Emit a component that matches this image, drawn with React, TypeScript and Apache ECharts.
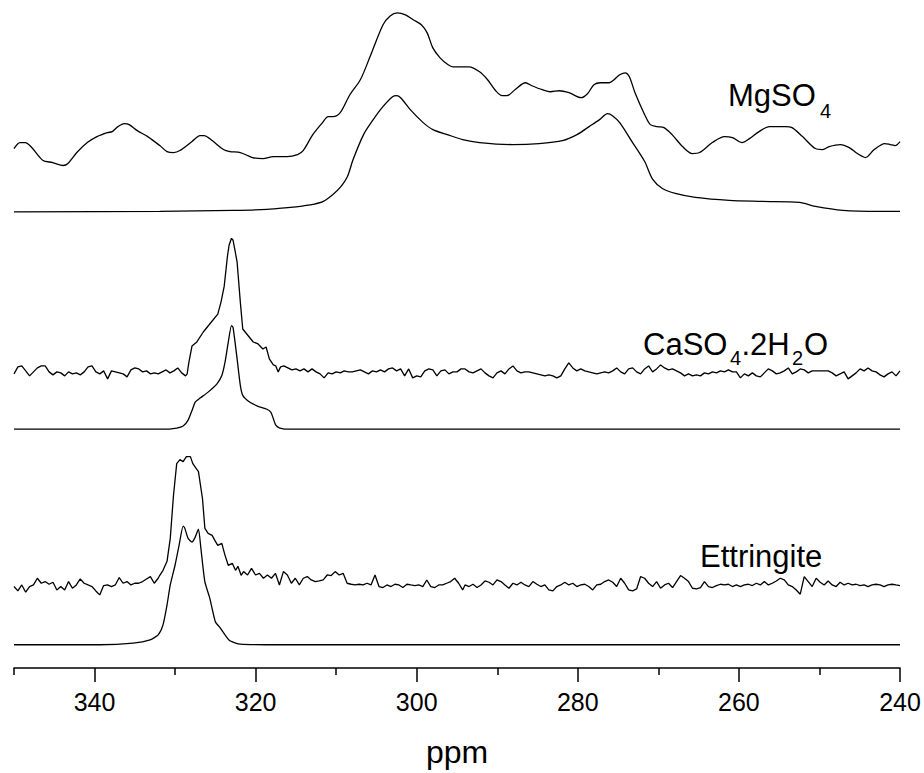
import React, { useEffect, useRef } from "react";
import * as echarts from "echarts";

const FONT = "'Liberation Sans', Arial, Helvetica, sans-serif";

// x axis (ppm) ticks
const MAJOR_TICKS = [240, 260, 280, 300, 320, 340];
const MINOR_TICKS = [250, 270, 290, 310, 330, 350];

// vertical offsets of the stacked spectra (arbitrary intensity units)
const OFFSETS = [500, 457.5, 296, 239.5, 82, 23.3];

type P = [number, number];
// evenly sampled segment between two chemical shifts
function seg(start: number, end: number, vals: number[]): P[] {
  const n = vals.length;
  return vals.map((v, i) => [start + ((end - start) * i) / (n - 1), v] as P);
}

// MgSO4 experimental
const MGSO4_EXP: P[] = [
  [350.0, 21], [349.25, 27], [348.6, 27], [347.8, 22], [346.4, 9], [345.2, 7], [343.9, 4], [343.3, 6],
  [342.2, 17], [340.9, 27], [339.7, 33], [338.4, 37], [337.8, 38], [337.1, 43], [336.3, 46], [335.7, 45],
  [334.7, 39], [333.4, 33], [331.9, 24], [331.0, 18], [330.2, 17], [329.4, 19], [327.9, 28], [326.9, 34],
  [326.4, 34], [325.4, 29], [324.0, 20], [323.2, 18], [321.9, 17], [320.4, 12], [319.1, 11], [317.8, 13],
  [316.1, 13], [314.8, 15], [314.1, 19], [312.9, 35], [311.7, 47], [311.0, 53], [310.4, 53], [309.5, 57],
  [308.3, 75], [307.0, 90], [305.8, 113], [304.2, 145], [303.3, 154], [302.4, 157], [301.4, 155], [300.4, 150],
  [299.4, 145], [298.7, 137], [298.0, 122], [297.1, 112], [296.1, 105], [295.5, 103], [294.3, 103], [293.5, 103],
  [292.2, 98], [291.2, 90], [290.2, 79], [289.4, 74], [288.8, 74], [287.8, 80], [286.5, 87], [285.7, 84],
  [284.4, 80], [283.4, 78], [282.3, 79], [281.1, 77], [279.6, 72], [278.8, 76], [278.0, 85], [277.2, 87],
  [276.1, 87], [275.5, 90], [274.8, 95], [274.1, 97], [273.6, 93], [272.9, 77], [271.7, 55], [271.0, 45],
  [270.1, 43], [269.3, 42], [268.3, 35], [267.0, 23], [265.8, 16], [264.9, 17], [263.3, 27], [261.8, 33],
  [260.8, 32], [259.6, 27], [258.7, 31], [257.5, 38], [256.2, 43], [254.2, 43], [253.4, 42], [252.1, 33],
  [250.5, 21], [249.6, 20], [248.8, 23], [247.4, 25], [246.3, 22], [245.3, 16], [244.3, 12], [243.2, 20],
  [241.9, 26], [241.2, 25], [240.6, 24], [240.0, 28],
];

// MgSO4 simulated
const MGSO4_SIM: P[] = [
  [350, 0], [331.9, 0.5], [322.8, 1.5], [318.6, 2.5], [315.7, 4.5], [314.5, 5.5], [312.9, 7.5], [311.6, 10.5],
  [310.4, 17.5], [309.5, 24.5], [308.6, 35.5], [307.9, 52.5], [306.6, 77.5], [305.4, 92.5], [304.2, 105.5],
  [303.0, 115.5], [302.5, 116.5], [302.0, 114.5], [300.8, 102.5], [299.2, 89.5], [298.0, 82.5], [296.2, 77.5],
  [294.3, 72.5], [292.2, 69.5], [288.1, 67.5], [284.8, 68.5], [281.9, 71.5], [280.1, 77.5], [278.6, 85.5],
  [277.3, 92.5], [276.3, 98.5], [275.7, 96.5], [274.8, 89.5], [273.2, 69.5], [271.7, 50.5], [270.7, 32.5],
  [269.5, 23.5], [267.9, 18.5], [265.4, 14.5], [261.2, 11.5], [257.1, 10.5], [252.5, 9.5], [250.5, 5.5],
  [247.1, 1.5], [242.5, 0.5], [240, 0.5],
];

// CaSO4.2H2O experimental
const CASO4_EXP: P[] = [
  ...seg(350, 328.7, [
    -1, 6, 7, 2, -3, 1, 5, 7, 7, 1, -2, 1, 0, -3, 1, -1, 0, -2, 1, 6, 7, 1, -1, 2, -6, 2, 1, 0, -1, -4,
    3, 5, 4, 1, 2, -1, 0, -1, 1, 3, 0, 2, 5, 0, -3,
  ]),
  [328.5, -1], [328.3, 10], [327.9, 27], [327.3, 31], [326.5, 41], [325.7, 49], [324.7, 59], [324.3, 71],
  [323.9, 87], [323.5, 117], [323.3, 128], [323.0, 135], [322.8, 133], [322.5, 120], [322.3, 111], [321.9, 71],
  [321.6, 44], [320.9, 37], [320.3, 31], [319.7, 29], [319.1, 24], [318.7, 26], [318.3, 14], [317.8, 8],
  [317.5, 7], [317.2, 1], [316.9, 6],
  ...seg(316.5, 294.5, [
    7, 5, 3, 4, 2, 4, 1, 4, 1, -1, -5, 0, -1, 1, 0, 2, 1, 1, 2, 3, 1, -1, 2, 1, 3, 1, 4, 5, 2, 4,
    -3, 4, -5, -3, -4, 2, 4, 3, -3, 2, 3, -1, 1, 1, 4,
  ]),
  ...seg(294.0, 240.0, [
    4, 1, 0, 2, 4, 0, -3, -5, 0, 2, -1, 4, 7, 2, 0, 1, 1, 0, -1, -2, -3, -2, -3, -5, -3, 4, 10, 5, 2, 4,
    2, 1, 0, -1, 0, 1, 0, 2, 5, 1, -1, 4, 5, 1, -1, 4, 7, 1, 4, 8, 5, 3, 4, 2, 0, -3, -1, -3, -2, -3,
    0, -1, 1, 0, 2, 1, 3, 1, 1, -5, -1, -3, 0, -3, -4, 0, 4, 2, -1, 0, 2, 5, -1, 1, 4, 3, 0, 2, 2, 2,
    2, 2, 0, -3, -1, 1, -6, -3, 0, 4, 2, 5, 2, 1, -2, -4, -1, 1, -3, 2,
  ]),
];

// CaSO4.2H2O simulated
const CASO4_SIM: P[] = [
  [350, 0], [331.5, 0], [329.8, 1.2], [329.0, 3.2], [328.4, 8.8], [327.9, 18.8], [327.5, 27.2], [326.9, 31.2],
  [325.9, 37.2], [324.8, 45.5], [324.2, 53.8], [323.8, 67.2], [323.4, 87.2], [323.0, 104], [322.8, 102],
  [322.3, 70.5], [321.9, 44], [321.6, 34], [320.7, 27], [319.7, 23], [318.6, 20], [318.1, 17], [317.8, 10.5],
  [317.5, 4], [317.0, 1.2], [315.7, 0], [240, 0],
];

// Ettringite experimental
const ETTR_EXP: P[] = [
  ...seg(350, 332.1, [
    -0.3, -4.7, 1.3, -6, -0.3, 1.3, 8, 3, 4.7, 2, 4, -3.7, -0.3, -3.7, 4.7, -2, 1.3, 7.3, 3, 1.3,
    -0.3, -4.7, -8.7, 0.7, 1.3, -0.3, 1.3, 8.7, 3, 4.7, 1.3, 3, 3, 4.7, 7.3, 9.7, 3, 8,
  ]),
  [331.9, 11], [331.5, 16], [331.0, 25], [330.6, 48], [330.2, 91], [329.8, 123], [329.4, 127], [329.0, 125],
  [328.6, 130], [328.1, 130], [327.8, 123], [327.1, 115], [326.6, 88], [326.3, 58], [325.9, 53], [325.4, 51],
  [325.0, 45], [324.7, 41], [324.2, 43], [323.8, 31], [323.4, 21], [322.9, 23], [322.5, 16], [322.2, 20],
  [321.8, 11],
  ...seg(321.5, 294.3, [
    14.7, 11.3, 18, 11.3, 13, 8, 11.3, 8, 13, 1.3, 14.7, 11.3, 3, 8, 1.3, 8, 9.7, 6.3, 4.7, 5.3,
    6.3, 11.3, 10.7, 14.7, 11.3, 13, 3, 2, 1.3, 2, 1.3, 3, 1.3, 11.3, -0.3, -1.3, 1.3, -0.3, 2, 1.3,
    -1.3, 2, 1.3, 0.7, 1.3, -0.3, 6.3, -0.3, -1.3, 1.3, 1.3, 3, 4.7, 8, 3, -3.7,
  ]),
  ...seg(294.0, 240.0, [
    1.3, -0.3, 2, -1.3, 1.3, 5.3, 4, 1.3, 6.3, 4.7, 1.3, -2, 3, 1.3, 4, 1.3, -0.3, 4.7, 2, -0.3,
    1.3, -3.7, -4.7, -0.3, 1.3, 4, 1.3, 3, -0.3, 1.3, 2, -0.3, -3.7, 1.3, 2, 4.7, 6.3, 4, -0.3, 8,
    3, -3.7, -4.7, -2.7, 9.7, 8, 3, -0.3, 4.7, -2, 1.3, 3, -1.3, 4.7, 10.7, 8, 4.7, -2, -2.7, -1.3,
    4.7, -0.3, -1.3, 0.7, 2, 1.3, 2, -0.3, 1.3, -0.3, 1.3, 2, 0.7, 3, 1.3, 4.7, 1.3, 3, 5.3, 8,
    6.3, 1.3, -0.3, -3.7, -8, 9.7, 4.7, -0.3, 8, 4, 1.3, 5.3, 1.3, -0.3, 4, 1.3, 3, 1.3, 2, 0.7,
    1.3, -0.3, 1.3, 2, 1.3, -0.3, 1.3, 2, 1.3, 0.7,
  ]),
];

// Ettringite simulated
const ETTR_SIM: P[] = [
  [350, 0], [339.3, 0], [335.2, 1.7], [333.1, 5], [332.1, 10], [331.5, 20], [331.0, 40], [330.6, 60],
  [330.0, 80], [329.5, 100], [329.0, 119], [328.8, 117], [328.4, 107], [327.9, 103], [327.5, 108],
  [327.1, 116], [326.8, 97], [326.3, 63], [325.7, 47], [325.0, 23], [324.4, 17], [323.8, 10], [323.2, 4],
  [321.9, 0.7], [316.9, 0], [240, 0],
];

const TRACES: { name: string; data: P[]; smooth: number }[] = [
  { name: "MgSO4 exp", data: MGSO4_EXP, smooth: 0.3 },
  { name: "MgSO4 sim", data: MGSO4_SIM, smooth: 0.3 },
  { name: "CaSO4.2H2O exp", data: CASO4_EXP, smooth: 0 },
  { name: "CaSO4.2H2O sim", data: CASO4_SIM, smooth: 0.2 },
  { name: "Ettringite exp", data: ETTR_EXP, smooth: 0 },
  { name: "Ettringite sim", data: ETTR_SIM, smooth: 0.2 },
];

export default function App() {
  const ref = useRef<HTMLDivElement>(null);
  useEffect(() => {
    if (!ref.current) return;
    const chart = echarts.init(ref.current, undefined, { renderer: "svg" });
    const txt = (text: string, x: number, y: number, size: number) => ({
      type: "text",
      x,
      y,
      silent: true,
      style: {
        text,
        fontSize: size,
        fontFamily: FONT,
        fill: "#000",
        align: "left",
        verticalAlign: "middle",
      },
    });
    chart.setOption({
      animation: false,
      backgroundColor: "#fff",
      grid: { left: 14, right: 24, top: 0, bottom: 103, containLabel: false },
      xAxis: [
        {
          type: "value",
          min: 240,
          max: 350,
          inverse: true,
          position: "bottom",
          axisLine: { show: true, lineStyle: { color: "#000", width: 1.5 } },
          axisTick: { show: true, customValues: MAJOR_TICKS, length: 14, lineStyle: { color: "#000", width: 1.5 } },
          axisLabel: {
            show: true,
            customValues: MAJOR_TICKS,
            margin: 21,
            fontSize: 25,
            fontFamily: FONT,
            color: "#000",
          },
          splitLine: { show: false },
          name: "ppm",
          nameLocation: "middle",
          nameGap: 68,
          nameTextStyle: { fontSize: 32, fontFamily: FONT, color: "#000" },
        },
        {
          type: "value",
          min: 240,
          max: 350,
          inverse: true,
          position: "bottom",
          axisLine: { show: false },
          axisTick: { show: true, customValues: MINOR_TICKS, length: 7, lineStyle: { color: "#000", width: 1.5 } },
          axisLabel: { show: false },
          splitLine: { show: false },
        },
      ],
      yAxis: { type: "value", min: 0, max: 670, show: false },
      series: TRACES.map((t, i) => ({
        name: t.name,
        type: "line",
        xAxisIndex: 0,
        data: t.data.map(([x, v]) => [x, v + OFFSETS[i]]),
        showSymbol: false,
        smooth: t.smooth,
        lineStyle: { color: "#000", width: 1.3 },
        silent: true,
      })),
      graphic: [
        txt("MgSO", 728, 95, 31),
        txt("4", 820, 111, 20),
        txt("CaSO", 643, 344, 31),
        txt("4", 730, 358, 20),
        txt(".2H", 741.5, 344, 31),
        txt("2", 792, 358, 20),
        txt("O", 804, 344, 31),
        txt("Ettringite", 700, 556, 31),
      ],
    });
    return () => chart.dispose();
  }, []);
  return <div ref={ref} style={{ position: "fixed", left: 0, top: 0, width: 924, height: 773 }} />;
}
